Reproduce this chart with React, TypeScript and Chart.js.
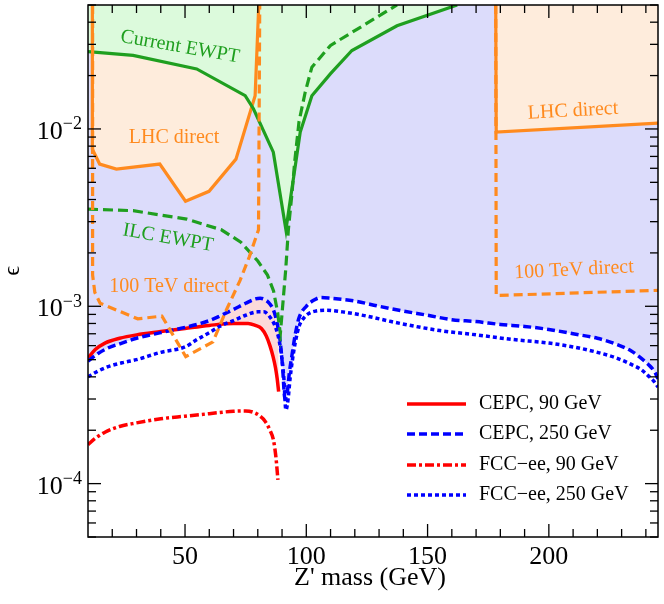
import React, { useEffect, useRef } from 'react';
import { Chart, registerables } from 'chart.js';

Chart.register(...registerables);

const X_MIN = 10;
const X_MAX = 245;
const Y_MIN = 5e-5;
const Y_MAX = 5e-2;

// CEPC, 90 GeV (red solid)
const cepc90Mass = [10, 13, 17, 23, 30, 40, 50, 60, 70, 76, 79, 81.5, 83.5, 85, 86.3, 87.3, 88, 88.6];
const cepc90Eps = [5.1e-4, 5.7e-4, 6.2e-4, 6.6e-4, 6.9e-4, 7.2e-4, 7.5e-4, 7.8e-4, 8.0e-4, 8.0e-4, 7.8e-4, 7.5e-4, 6.8e-4, 6.0e-4, 5.2e-4, 4.5e-4, 3.9e-4, 3.3e-4];

// CEPC, 250 GeV (blue dashed)
const cepc250Mass = [10, 14, 18, 24, 30, 40, 50, 60, 65, 70, 75, 79, 81, 83, 85, 86.5, 88, 89.2, 90.2, 91.2, 92.2, 93, 94, 95.5, 97, 100, 103, 106, 110, 120, 130, 140, 150, 160, 170, 180, 190, 200, 210, 220, 228, 234, 238, 241, 243.5, 245];
const cepc250Eps = [4.9e-4, 5.4e-4, 5.8e-4, 6.2e-4, 6.6e-4, 7.1e-4, 7.6e-4, 8.3e-4, 8.9e-4, 9.6e-4, 1.04e-3, 1.1e-3, 1.11e-3, 1.09e-3, 1.03e-3, 9.5e-4, 8.0e-4, 6.4e-4, 4.6e-4, 3.0e-4, 3.3e-4, 4.2e-4, 5.2e-4, 7.0e-4, 8.6e-4, 1.0e-3, 1.08e-3, 1.12e-3, 1.11e-3, 1.07e-3, 1.0e-3, 9.4e-4, 8.9e-4, 8.4e-4, 8.2e-4, 7.9e-4, 7.7e-4, 7.4e-4, 7.0e-4, 6.6e-4, 6.1e-4, 5.6e-4, 5.1e-4, 4.7e-4, 4.3e-4, 3.9e-4];

// FCC-ee, 90 GeV (red dash-dot)
const fcc90Mass = [10, 13, 17, 23, 30, 40, 50, 60, 70, 75, 78, 81, 83, 85, 86.5, 87.5, 88.3];
const fcc90Eps = [1.66e-4, 1.8e-4, 1.95e-4, 2.1e-4, 2.2e-4, 2.32e-4, 2.4e-4, 2.48e-4, 2.56e-4, 2.57e-4, 2.53e-4, 2.4e-4, 2.25e-4, 2.0e-4, 1.75e-4, 1.4e-4, 1.05e-4];

// FCC-ee, 250 GeV (blue dotted)
const fcc250Mass = [10, 14, 18, 24, 30, 40, 50, 55, 60, 65, 70, 75, 80, 82.5, 85, 87, 88.5, 89.7, 90.7, 91.6, 92.5, 93.3, 94.3, 95.5, 97, 99, 101, 104, 108, 115, 125, 135, 145, 155, 170, 185, 200, 210, 220, 228, 234, 238, 241, 243.5, 245];
const fcc250Eps = [4.0e-4, 4.3e-4, 4.55e-4, 4.8e-4, 5.0e-4, 5.5e-4, 5.9e-4, 6.5e-4, 7.1e-4, 7.8e-4, 8.3e-4, 8.9e-4, 9.3e-4, 9.3e-4, 8.7e-4, 7.8e-4, 6.7e-4, 5.4e-4, 4.0e-4, 2.6e-4, 3.0e-4, 3.9e-4, 5.0e-4, 6.3e-4, 7.7e-4, 8.6e-4, 9.1e-4, 9.4e-4, 9.5e-4, 9.3e-4, 8.8e-4, 8.2e-4, 7.7e-4, 7.3e-4, 6.9e-4, 6.5e-4, 6.2e-4, 5.9e-4, 5.5e-4, 5.1e-4, 4.7e-4, 4.4e-4, 4.05e-4, 3.75e-4, 3.5e-4];

// Current EWPT (green solid)
const ewptMass = [10, 28.6, 54.8, 74.8, 78.2, 86.4, 91.6, 97.5, 102.3, 110, 118.8, 137.4, 162.2];
const ewptEps = [0.0273, 0.026, 0.0218, 0.0154, 0.013, 0.0074, 0.0027, 0.0096, 0.0154, 0.0205, 0.0277, 0.0382, 0.05];

// ILC EWPT (green dashed)
const ilcMass = [10, 28.6, 50.7, 65, 73, 80, 84, 86.5, 88.2, 89.3, 90.5, 91.5, 92.6, 94, 95.2, 97, 99.5, 102.3, 110, 137.4];
const ilcEps = [0.00353, 0.00346, 0.0031, 0.0027, 0.0023, 0.0018, 0.0015, 0.00122, 0.00092, 0.0007, 0.0011, 0.0016, 0.0027, 0.0042, 0.0065, 0.011, 0.016, 0.0223, 0.0296, 0.05];

// LHC direct (orange solid), low and high mass
const lhcLowMass = [11.8, 11.8, 14.8, 21.7, 39.6, 50.2, 59.9, 71, 78.9, 80.4];
const lhcLowEps = [0.05, 0.0077, 0.00634, 0.00594, 0.00634, 0.00391, 0.00445, 0.00676, 0.0154, 0.05];
const lhcHighMass = [178.1, 178.3, 245];
const lhcHighEps = [0.05, 0.0096, 0.0108];

// 100 TeV direct (orange dashed), low and high mass
const tevLowMass = [11.9, 11.9, 12.8, 15, 30.5, 40.5, 50.3, 61.5, 67, 72.7, 76.5, 80.3, 80.8];
const tevLowEps = [0.05, 0.0015, 0.0012, 0.00104, 0.00085, 0.00088, 0.00052, 0.00063, 0.00095, 0.0014, 0.0019, 0.0027, 0.05];
const tevHighMass = [178.1, 178.3, 245];
const tevHighEps = [0.05, 0.00115, 0.00123];

const xMajorTicks = [50, 100, 150, 200];
const yDecadeExps = [-4, -3, -2];
const legendLabels = ['CEPC, 90 GeV', 'CEPC, 250 GeV', 'FCC\u2212ee, 90 GeV', 'FCC\u2212ee, 250 GeV'];

const RED = '#ff0000';
const BLUE = '#0000ff';
const GREEN = '#1f9f1f';
const ORANGE = '#ff8a1e';
const LAVENDER = '#dcdcfb';
const PINK = '#fcdada';
const PEACH = '#feecdc';
const LIGHTGREEN = '#dcfadc';

const SERIF = "'Liberation Serif', 'Times New Roman', 'DejaVu Serif', serif";

const pts = (xs: number[], ys: number[]) => xs.map((x, i) => ({ x, y: ys[i] }));

const legendStyles = [
  { color: RED, dash: [] as number[] },
  { color: BLUE, dash: [8, 4] },
  { color: RED, dash: [9, 3, 3, 3] },
  { color: BLUE, dash: [4, 3] },
];

const annotations = [
  { text: 'Current EWPT', x: 180, y: 47, rot: 10, color: GREEN },
  { text: 'LHC direct', x: 174, y: 138, rot: 0, color: ORANGE },
  { text: 'ILC EWPT', x: 168, y: 238, rot: 10, color: GREEN },
  { text: '100 TeV direct', x: 169, y: 287, rot: 0, color: ORANGE },
  { text: 'LHC direct', x: 573, y: 111, rot: -3.1, color: ORANGE },
  { text: '100 TeV direct', x: 574, y: 270, rot: -2.9, color: ORANGE },
];

const overlayPlugin = {
  id: 'overlay',
  afterDatasetsDraw(chart: any) {
    const ctx: CanvasRenderingContext2D = chart.ctx;
    const { left, right, top, bottom } = chart.chartArea;
    const xs = chart.scales.x;
    const ys = chart.scales.y;
    ctx.save();

    // region annotations
    ctx.font = `20px ${SERIF}`;
    ctx.textAlign = 'center';
    ctx.textBaseline = 'middle';
    for (const a of annotations) {
      ctx.save();
      ctx.translate(a.x, a.y);
      ctx.rotate((a.rot * Math.PI) / 180);
      ctx.fillStyle = a.color;
      ctx.fillText(a.text, 0, 0);
      ctx.restore();
    }

    // frame
    ctx.strokeStyle = '#000';
    ctx.lineWidth = 1.5;
    ctx.setLineDash([]);
    ctx.strokeRect(left, top, right - left, bottom - top);

    const seg = (x1: number, y1: number, x2: number, y2: number) => {
      ctx.beginPath();
      ctx.moveTo(x1, y1);
      ctx.lineTo(x2, y2);
      ctx.stroke();
    };

    // x ticks (inside, mirrored)
    ctx.lineWidth = 1.3;
    for (let v = 20; v <= 240; v += 10) {
      const px = xs.getPixelForValue(v);
      const len = v % 50 === 0 ? 13 : 8;
      seg(px, bottom, px, bottom - len);
      seg(px, top, px, top + len);
    }
    // y ticks
    for (let e = -5; e <= -2; e++) {
      for (let m = 1; m <= 9; m++) {
        const v = m * Math.pow(10, e);
        if (v < Y_MIN * 0.999 || v > Y_MAX * 1.001) continue;
        const py = ys.getPixelForValue(v);
        const len = m === 1 ? 13 : 8;
        seg(left, py, left + len, py);
        seg(right, py, right - len, py);
      }
    }

    // x tick labels
    ctx.fillStyle = '#000';
    ctx.font = `26px ${SERIF}`;
    ctx.textAlign = 'center';
    ctx.textBaseline = 'alphabetic';
    for (const v of xMajorTicks) {
      ctx.fillText(String(v), xs.getPixelForValue(v), 564);
    }

    // y tick labels 10^e
    for (const e of yDecadeExps) {
      const py = ys.getPixelForValue(Math.pow(10, e));
      const sup = '\u2212' + String(-e);
      ctx.font = `18px ${SERIF}`;
      const supW = ctx.measureText(sup).width;
      ctx.textAlign = 'left';
      const supX = 82 - supW;
      ctx.fillText(sup, supX, py + 0.5);
      ctx.font = `26px ${SERIF}`;
      ctx.textAlign = 'right';
      ctx.fillText('10', supX, py + 10);
    }

    // axis titles
    ctx.font = `26px ${SERIF}`;
    ctx.textAlign = 'center';
    ctx.fillText("Z' mass (GeV)", (left + right) / 2 - 3, 585);
    ctx.save();
    ctx.translate(13, 271);
    ctx.rotate(-Math.PI / 2);
    ctx.font = `24px ${SERIF}`;
    ctx.textBaseline = 'middle';
    ctx.fillText('\u03f5', 0, 0);
    ctx.restore();

    // legend
    const rows = [404, 434, 465, 495];
    ctx.font = `20px ${SERIF}`;
    ctx.textAlign = 'left';
    ctx.textBaseline = 'middle';
    legendLabels.forEach((label, i) => {
      const st = legendStyles[i];
      ctx.strokeStyle = st.color;
      ctx.lineWidth = 3.5;
      ctx.setLineDash(st.dash);
      seg(407, rows[i], 466, rows[i]);
      ctx.setLineDash([]);
      ctx.fillStyle = '#000';
      ctx.fillText(label, 479, rows[i]);
    });

    ctx.restore();
  },
};

export default function App() {
  const ref = useRef<HTMLCanvasElement>(null);
  useEffect(() => {
    if (!ref.current) return;
    const smooth = { cubicInterpolationMode: 'monotone' as const };
    const chart = new Chart(ref.current, {
      type: 'line',
      data: {
        datasets: [
          { label: 'CEPC, 90 GeV', data: pts(cepc90Mass, cepc90Eps), borderColor: RED, borderWidth: 3.5, fill: 'end', backgroundColor: PINK, order: 10, ...smooth },
          { label: 'CEPC, 250 GeV', data: pts(cepc250Mass, cepc250Eps), borderColor: BLUE, borderWidth: 3.5, borderDash: [8, 4], fill: 'end', backgroundColor: LAVENDER, order: 9, ...smooth },
          { label: 'LHC direct low', data: pts(lhcLowMass, lhcLowEps), borderColor: ORANGE, borderWidth: 3.2, fill: 'end', backgroundColor: PEACH, order: 8, tension: 0 },
          { label: 'LHC direct high', data: pts(lhcHighMass, lhcHighEps), borderColor: ORANGE, borderWidth: 3.2, fill: 'end', backgroundColor: PEACH, order: 8, tension: 0 },
          { label: 'Current EWPT', data: pts(ewptMass, ewptEps), borderColor: GREEN, borderWidth: 3.2, fill: 'end', backgroundColor: LIGHTGREEN, order: 7, tension: 0 },
          { label: 'ILC EWPT', data: pts(ilcMass, ilcEps), borderColor: GREEN, borderWidth: 3.2, borderDash: [10, 5], fill: false, order: 5, tension: 0 },
          { label: '100 TeV direct low', data: pts(tevLowMass, tevLowEps), borderColor: ORANGE, borderWidth: 3.2, borderDash: [9, 5], fill: false, order: 4, tension: 0 },
          { label: '100 TeV direct high', data: pts(tevHighMass, tevHighEps), borderColor: ORANGE, borderWidth: 3.2, borderDash: [9, 5], fill: false, order: 4, tension: 0 },
          { label: 'FCC-ee, 90 GeV', data: pts(fcc90Mass, fcc90Eps), borderColor: RED, borderWidth: 3.5, borderDash: [9, 3, 3, 3], fill: false, order: 2, ...smooth },
          { label: 'FCC-ee, 250 GeV', data: pts(fcc250Mass, fcc250Eps), borderColor: BLUE, borderWidth: 3.5, borderDash: [4, 3], fill: false, order: 1, ...smooth },
        ] as any,
      },
      options: {
        animation: false,
        responsive: false,
        maintainAspectRatio: false,
        layout: { padding: { left: 88, right: 6, top: 5, bottom: 67 } },
        elements: { point: { radius: 0, hoverRadius: 0 } },
        scales: {
          x: { type: 'linear', min: X_MIN, max: X_MAX, display: false },
          y: { type: 'logarithmic', min: Y_MIN, max: Y_MAX, display: false },
        },
        plugins: {
          legend: { display: false },
          tooltip: { enabled: false },
          filler: { drawTime: 'beforeDatasetsDraw' },
        } as any,
        events: [],
      },
      plugins: [overlayPlugin],
    });
    return () => chart.destroy();
  }, []);
  return (
    <div style={{ position: 'absolute', left: 0, top: 0, width: 664, height: 604, background: '#fff' }}>
      <canvas ref={ref} width={664} height={604} style={{ width: 664, height: 604, display: 'block' }} />
    </div>
  );
}
